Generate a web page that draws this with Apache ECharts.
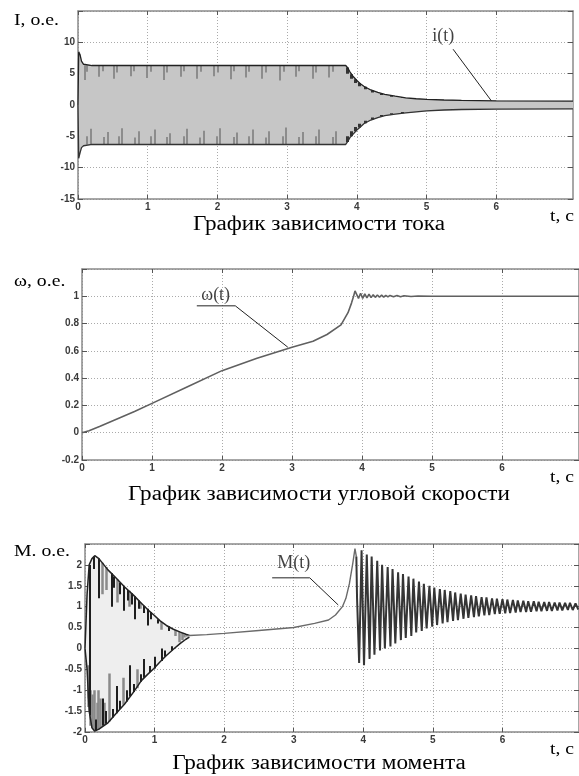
<!DOCTYPE html>
<html>
<head>
<meta charset="utf-8">
<script src="https://cdn.jsdelivr.net/npm/echarts@6/dist/echarts.min.js"></script>
<style>
html,body{margin:0;padding:0;background:#fff}
#chart{width:579px;height:776px}
</style>
</head>
<body>
<div id="chart"></div>
<script>
// ось времени, общая для трёх графиков
var tMax = 7.1;
var tTicks = [0, 1, 2, 3, 4, 5, 6];

// ток i(t): огибающие полосы колебаний [t, верх, низ]
var iBand = [
    [0, 0, 0], [0.01, 8.5, -8.5], [0.03, 8.0, -7.6], [0.05, 7.0, -6.8], [0.08, 6.5, -6.5],
    [0.2, 6.3, -6.3], [3.84, 6.3, -6.3], [3.87, 5.9, -5.8], [3.9, 5.3, -5.2], [3.95, 4.5, -4.6],
    [4.0, 3.9, -4.0], [4.05, 3.4, -3.5], [4.1, 3.0, -3.0], [4.2, 2.4, -2.4], [4.3, 2.0, -2.0],
    [4.4, 1.7, -1.7], [4.55, 1.4, -1.45], [4.7, 1.15, -1.25], [4.85, 1.0, -1.1], [5.0, 0.9, -0.95],
    [5.25, 0.8, -0.8], [5.5, 0.74, -0.72], [6.0, 0.66, -0.65], [7.1, 0.62, -0.62]
];
// выбросы тока [t, от, до]
var iSpikes = [
    [0.09, 6.3, 4.0], [0.13, 6.3, 5.3], [0.3, 6.3, 4.5], [0.35, 6.3, 5.4], [0.51, 6.3, 4.2], [0.56, 6.3, 5.2],
    [0.75, 6.3, 4.6], [0.8, 6.3, 5.4], [0.99, 6.3, 4.3], [1.04, 6.3, 5.3], [1.23, 6.3, 4.0], [1.28, 6.3, 5.2],
    [1.47, 6.3, 4.5], [1.52, 6.3, 5.4], [1.71, 6.3, 4.2], [1.76, 6.3, 5.3], [1.95, 6.3, 4.6], [2.0, 6.3, 5.2],
    [2.19, 6.3, 4.1], [2.24, 6.3, 5.4], [2.4, 6.3, 4.4], [2.45, 6.3, 5.3], [2.64, 6.3, 4.2], [2.69, 6.3, 5.2],
    [2.9, 6.3, 3.9], [2.95, 6.3, 5.3], [3.12, 6.3, 4.5], [3.17, 6.3, 5.4], [3.36, 6.3, 4.2], [3.41, 6.3, 5.2],
    [3.6, 6.3, 4.4], [3.65, 6.3, 5.3],
    [0.18, -6.3, -3.8], [0.13, -6.3, -5.0], [0.42, -6.3, -4.3], [0.37, -6.3, -5.1], [0.63, -6.3, -3.7], [0.58, -6.3, -5.0],
    [0.87, -6.3, -4.2], [0.82, -6.3, -5.2], [1.1, -6.3, -3.9], [1.05, -6.3, -5.0], [1.32, -6.3, -4.5], [1.27, -6.3, -5.1],
    [1.56, -6.3, -3.8], [1.51, -6.3, -5.0], [1.8, -6.3, -4.1], [1.75, -6.3, -5.2], [2.04, -6.3, -3.7], [1.99, -6.3, -5.0],
    [2.28, -6.3, -4.4], [2.23, -6.3, -5.1], [2.5, -6.3, -3.9], [2.45, -6.3, -5.0], [2.74, -6.3, -4.2], [2.69, -6.3, -5.2],
    [2.98, -6.3, -3.6], [2.93, -6.3, -5.0], [3.22, -6.3, -4.3], [3.17, -6.3, -5.1], [3.46, -6.3, -3.9], [3.41, -6.3, -5.0],
    [3.7, -6.3, -4.2], [3.65, -6.3, -5.1]
];
// тёмные клинья на спаде огибающей тока [t, от, до]
var iWedges = [
    [3.86, 6.0, 5.0], [3.92, 4.9, 4.2], [3.98, 4.1, 3.5], [4.04, 3.5, 3.0], [4.12, 2.9, 2.5], [4.22, 2.3, 2.0],
    [4.35, 1.85, 1.6], [4.5, 1.5, 1.3], [4.65, 1.25, 1.1], [4.8, 1.05, 0.95],
    [3.86, -5.9, -5.0], [3.92, -5.0, -4.2], [3.98, -4.2, -3.5], [4.04, -3.6, -3.0], [4.12, -2.9, -2.5],
    [4.22, -2.3, -2.0], [4.35, -1.85, -1.6], [4.5, -1.5, -1.3], [4.65, -1.3, -1.1]
];

// скорость ω(t)
var wData = [
    [0, 0], [0.1, 0.015], [0.25, 0.045], [0.5, 0.1], [0.75, 0.155], [1.0, 0.215], [1.5, 0.335],
    [2.0, 0.455], [2.5, 0.545], [3.0, 0.627], [3.3, 0.67], [3.5, 0.72], [3.7, 0.79], [3.8, 0.88],
    [3.85, 0.95], [3.88, 1.0], [3.9, 1.04], [3.92, 1.035], [3.95, 0.985], [3.98, 1.022], [4.01, 0.985],
    [4.04, 1.018], [4.07, 0.988], [4.1, 1.015], [4.13, 0.99], [4.16, 1.012], [4.19, 0.992], [4.22, 1.01],
    [4.25, 0.993], [4.28, 1.008], [4.31, 0.994], [4.34, 1.007], [4.37, 0.995], [4.4, 1.006], [4.45, 0.996],
    [4.5, 1.005], [4.55, 0.997], [4.6, 1.004], [4.7, 0.998], [4.8, 1.002], [5.0, 1.0], [5.3, 1.0], [7.1, 1.0]
];

// момент M(t): пусковая полоса [t, верх, низ]
var mBand = [
    [0, 0, 0], [0.03, 1.3, -0.5], [0.06, 2.0, -1.5], [0.1, 2.15, -1.9], [0.14, 2.22, -1.98], [0.2, 2.15, -1.93],
    [0.33, 1.88, -1.78], [0.45, 1.68, -1.55], [0.57, 1.47, -1.33], [0.7, 1.27, -1.04], [0.81, 1.08, -0.77],
    [0.9, 0.93, -0.62], [0.99, 0.8, -0.48], [1.08, 0.66, -0.32], [1.17, 0.55, -0.17], [1.27, 0.46, -0.02],
    [1.37, 0.39, 0.12], [1.45, 0.34, 0.22], [1.5, 0.31, 0.27]
];
var mSpikesDark = [
    [0.07, -1.6, 2.0], [0.2, 2.15, 1.2], [0.38, 1.8, 1.0], [0.55, 1.5, 0.9], [0.72, 1.25, 0.7],
    [0.9, 0.95, 0.55], [0.25, -1.85, -1.2], [0.45, -1.55, -0.9], [0.65, -1.15, -0.4], [0.85, -0.7, -0.25],
    [1.0, -0.48, -0.2], [1.1, -0.3, 0.0], [0.12, 2.2, 1.9], [0.42, 1.72, 1.45], [0.5, 1.58, 1.3],
    [0.62, 1.4, 1.15], [0.67, 1.32, 1.05], [0.77, 1.15, 0.95], [0.85, 1.02, 0.85], [0.95, 0.87, 0.7],
    [1.05, 0.7, 0.6], [1.2, 0.53, 0.42], [0.16, -1.96, -1.7], [0.3, -1.8, -1.5], [0.4, -1.65, -1.45],
    [0.5, -1.45, -1.25], [0.6, -1.27, -1.0], [0.7, -1.04, -0.85], [0.8, -0.8, -0.62], [0.93, -0.57, -0.42],
    [1.15, -0.2, -0.05], [1.25, -0.05, 0.05]
];
var mSpikesGray = [
    [0.04, -1.2, -0.5], [0.1, -1.9, -1.1], [0.13, -1.95, -1.0], [0.17, -1.95, -1.3], [0.22, -1.9, -1.2],
    [0.08, -1.85, -1.0], [0.19, -1.94, -1.0], [0.28, -1.83, -1.3], [0.05, -1.4, -0.4],
    [0.3, 1.95, 1.4], [0.47, 1.65, 1.1], [0.64, 1.38, 1.0], [0.8, 1.1, 0.95], [0.35, -1.75, -0.6],
    [0.55, -1.35, -0.7], [0.75, -0.95, -0.5], [0.25, 2.05, 1.3], [1.1, 0.63, 0.45], [1.3, 0.44, 0.3],
    [1.35, 0.4, 0.15], [1.4, 0.37, 0.2], [1.42, 0.33, 0.26]
];
// момент: плавный разгон
var mRise = [
    [1.45, 0.3], [1.5, 0.31], [1.75, 0.33], [2.0, 0.36], [2.5, 0.43], [3.0, 0.5], [3.3, 0.6], [3.5, 0.68],
    [3.6, 0.8], [3.7, 1.0], [3.75, 1.2], [3.8, 1.55], [3.85, 2.05], [3.88, 2.39], [3.9, 2.2]
];
// момент: затухающие колебания
var mOsc = [
    [3.9, 2.2], [3.91, 1.2],
    [3.94, -0.35], [3.975, 2.35], [4.01, -0.4], [4.05, 2.25], [4.09, -0.25], [4.12, 2.2], [4.16, -0.15],
    [4.2, 2.1], [4.24, -0.05], [4.27, 2.0], [4.31, 0.0], [4.35, 1.95], [4.39, 0.05], [4.42, 1.9], [4.46, 0.12],
    [4.5, 1.82], [4.54, 0.2], [4.57, 1.78], [4.61, 0.25], [4.65, 1.72], [4.69, 0.3], [4.72, 1.67], [4.76, 0.38],
    [4.8, 1.6], [4.84, 0.42], [4.87, 1.55], [4.91, 0.48], [4.95, 1.5], [4.99, 0.52], [5.02, 1.46], [5.06, 0.56],
    [5.1, 1.42], [5.14, 0.6], [5.17, 1.4], [5.21, 0.63], [5.25, 1.37], [5.29, 0.66], [5.32, 1.34], [5.36, 0.68],
    [5.4, 1.31], [5.44, 0.71], [5.47, 1.29], [5.51, 0.73], [5.55, 1.27], [5.59, 0.75], [5.62, 1.25], [5.66, 0.77],
    [5.7, 1.23], [5.74, 0.79], [5.77, 1.22], [5.81, 0.8], [5.85, 1.2], [5.89, 0.82], [5.92, 1.19], [5.96, 0.83],
    [6.0, 1.18], [6.04, 0.84], [6.07, 1.17], [6.11, 0.85], [6.15, 1.16], [6.19, 0.86], [6.22, 1.15], [6.26, 0.87],
    [6.3, 1.14], [6.34, 0.87], [6.37, 1.13], [6.41, 0.88], [6.45, 1.13], [6.49, 0.89], [6.52, 1.12], [6.56, 0.89],
    [6.6, 1.11], [6.64, 0.9], [6.67, 1.11], [6.71, 0.9], [6.75, 1.1], [6.79, 0.91], [6.82, 1.1], [6.86, 0.91],
    [6.9, 1.09], [6.94, 0.92], [6.97, 1.09], [7.01, 0.92], [7.05, 1.08], [7.09, 0.93]
];

// подписи кривых и выноски
var iLeader = [[5.38, 8.9], [5.93, 0.65]];
var wLeader = [[1.64, 0.93], [2.19, 0.93], [2.94, 0.627]];
var mLeader = [[2.69, 1.69], [3.23, 1.69], [3.64, 1.04]];
var curveNames = [
    { g: 0, at: [5.24, 11.0], text: 'i(t)' },
    { g: 1, at: [1.91, 1.01], text: 'ω(t)' },
    { g: 2, at: [3.0, 2.05], text: 'M(t)' }
];

// пределы осей Y
var yLimits = [
    { min: -15, max: 15, interval: 5 },
    { min: -0.2, max: 1.2, interval: 0.2 },
    { min: -2, max: 2.5, interval: 0.5 }
];
var titles = ['График зависимости тока', 'График зависимости угловой скорости', 'График зависимости момента'];
var yNames = ['I, o.e.', 'ω, o.e.', 'M. o.e.'];

var grids = [
    { left: 78, top: 11, width: 495, height: 188 },
    { left: 82, top: 269, width: 502, height: 191 },
    { left: 85, top: 544, width: 502, height: 188 }
];

var frameColor = '#8a8a8a';
var tickFont = { color: '#3a3a3a', fontSize: 10, fontFamily: 'Liberation Sans', fontWeight: 'bold' };

var xAxes = [], yAxes = [];
grids.forEach(function (g, i) {
    xAxes.push({
        type: 'value', gridIndex: i, min: 0, max: tMax, interval: 1, position: 'bottom',
        axisLine: { show: true, onZero: false, lineStyle: { color: frameColor, width: 1.5 } },
        axisTick: { show: true, inside: true, length: 4, customValues: tTicks, lineStyle: { color: '#555' } },
        axisLabel: Object.assign({ customValues: tTicks, margin: 3 }, tickFont),
        splitLine: { show: true, lineStyle: { type: [1, 2], color: '#aaa' } }
    });
    xAxes.push({
        type: 'value', gridIndex: i, min: 0, max: tMax, interval: 1, position: 'top',
        axisLine: { show: true, onZero: false, lineStyle: { color: frameColor, width: 1.5 } },
        axisTick: { show: true, inside: true, length: 4, customValues: tTicks, lineStyle: { color: '#555' } },
        axisLabel: { show: false }, splitLine: { show: false }
    });
    var lim = yLimits[i];
    yAxes.push({
        type: 'value', gridIndex: i, min: lim.min, max: lim.max, interval: lim.interval, position: 'left',
        axisLine: { show: true, onZero: false, lineStyle: { color: frameColor, width: 1.5 } },
        axisTick: { show: true, inside: true, length: 5, lineStyle: { color: '#555' } },
        axisLabel: Object.assign({
            margin: 3,
            formatter: function (v) { return Math.abs(v - lim.max) < 1e-9 ? '' : String(+v.toFixed(1)); }
        }, tickFont),
        splitLine: { show: true, lineStyle: { type: [1, 2], color: '#aaa' } }
    });
    yAxes.push({
        type: 'value', gridIndex: i, min: lim.min, max: lim.max, interval: lim.interval, position: 'right',
        axisLine: { show: true, onZero: false, lineStyle: { color: frameColor, width: 1.5 } },
        axisTick: { show: true, inside: true, length: 5, lineStyle: { color: '#555' } },
        axisLabel: { show: false }, splitLine: { show: false }
    });
});

function bandSeries(g, band, color) {
    return {
        type: 'custom', xAxisIndex: g * 2, yAxisIndex: g * 2, silent: true, z: 1,
        data: [[band[0][0], band[0][1]]],
        renderItem: function (params, api) {
            var pts = [];
            band.forEach(function (r) { pts.push(api.coord([r[0], r[1]])); });
            band.slice().reverse().forEach(function (r) { pts.push(api.coord([r[0], r[2]])); });
            return { type: 'polygon', shape: { points: pts }, style: { fill: color, stroke: color, lineWidth: 0.5 } };
        }
    };
}
function edgeSeries(g, band, col, color, width) {
    return {
        type: 'line', xAxisIndex: g * 2, yAxisIndex: g * 2, showSymbol: false, silent: true, z: 3,
        data: band.map(function (r) { return [r[0], r[col]]; }),
        lineStyle: { color: color, width: width }
    };
}
function spikeSeries(g, spikes, color, width) {
    return {
        type: 'lines', coordinateSystem: 'cartesian2d', xAxisIndex: g * 2, yAxisIndex: g * 2, silent: true, z: 2,
        data: spikes.map(function (s) { return { coords: [[s[0], s[1]], [s[0], s[2]]] }; }),
        lineStyle: { color: color, width: width, opacity: 1 }
    };
}
function curveSeries(g, data, color, width) {
    return {
        type: 'line', xAxisIndex: g * 2, yAxisIndex: g * 2, showSymbol: false, silent: true, z: 3,
        data: data, lineStyle: { color: color, width: width }
    };
}
function leaderSeries(g, pts) {
    return {
        type: 'line', xAxisIndex: g * 2, yAxisIndex: g * 2, showSymbol: false, silent: true, z: 5,
        data: pts, lineStyle: { color: '#222', width: 1 }
    };
}

var series = [
    bandSeries(0, iBand, '#c6c6c6'),
    spikeSeries(0, iSpikes, '#8c8c8c', 2),
    spikeSeries(0, iWedges, '#333', 3),
    edgeSeries(0, iBand, 1, '#222', 1.3),
    edgeSeries(0, iBand, 2, '#333', 1.3),
    leaderSeries(0, iLeader),
    curveSeries(1, wData, '#606060', 1.6),
    leaderSeries(1, wLeader),
    bandSeries(2, mBand, '#eeeeee'),
    spikeSeries(2, mSpikesGray, '#8a8a8a', 2.5),
    spikeSeries(2, mSpikesDark, '#1e1e1e', 2),
    edgeSeries(2, mBand, 1, '#222', 1.5),
    edgeSeries(2, mBand, 2, '#222', 1.5),
    curveSeries(2, mRise, '#6a6a6a', 1.4),
    curveSeries(2, mOsc, '#353535', 2),
    leaderSeries(2, mLeader)
];
curveNames.forEach(function (c) {
    series.push({
        type: 'scatter', xAxisIndex: c.g * 2, yAxisIndex: c.g * 2, symbolSize: 0, silent: true, z: 6,
        data: [c.at],
        label: {
            show: true, position: 'inside', formatter: c.text, color: '#111',
            fontFamily: 'Liberation Serif', fontSize: 18
        }
    });
});

// тексты: растянуты по горизонтали, как в исходной картинке
var texts = [];
var titleY = [225, 495, 764];
var tY = [217, 478, 750];
var nameY = [21, 282, 552];
titles.forEach(function (t, i) {
    texts.push({ type: 'text', x: 319, y: titleY[i], scaleX: 1.16,
        style: { text: t, font: '20px "Liberation Serif"', fill: '#000', align: 'center', verticalAlign: 'middle' } });
    texts.push({ type: 'text', x: 550, y: tY[i], scaleX: 1.16,
        style: { text: 't, c', font: '17px "Liberation Serif"', fill: '#000', align: 'left', verticalAlign: 'middle' } });
    texts.push({ type: 'text', x: 14, y: nameY[i], scaleX: 1.16,
        style: { text: yNames[i], font: '17px "Liberation Serif"', fill: '#000', align: 'left', verticalAlign: 'middle' } });
});

var chart = echarts.init(document.getElementById('chart'));
chart.setOption({
    backgroundColor: '#fff',
    animation: false,
    grid: grids,
    xAxis: xAxes,
    yAxis: yAxes,
    series: series,
    graphic: texts
});
</script>
</body>
</html>
